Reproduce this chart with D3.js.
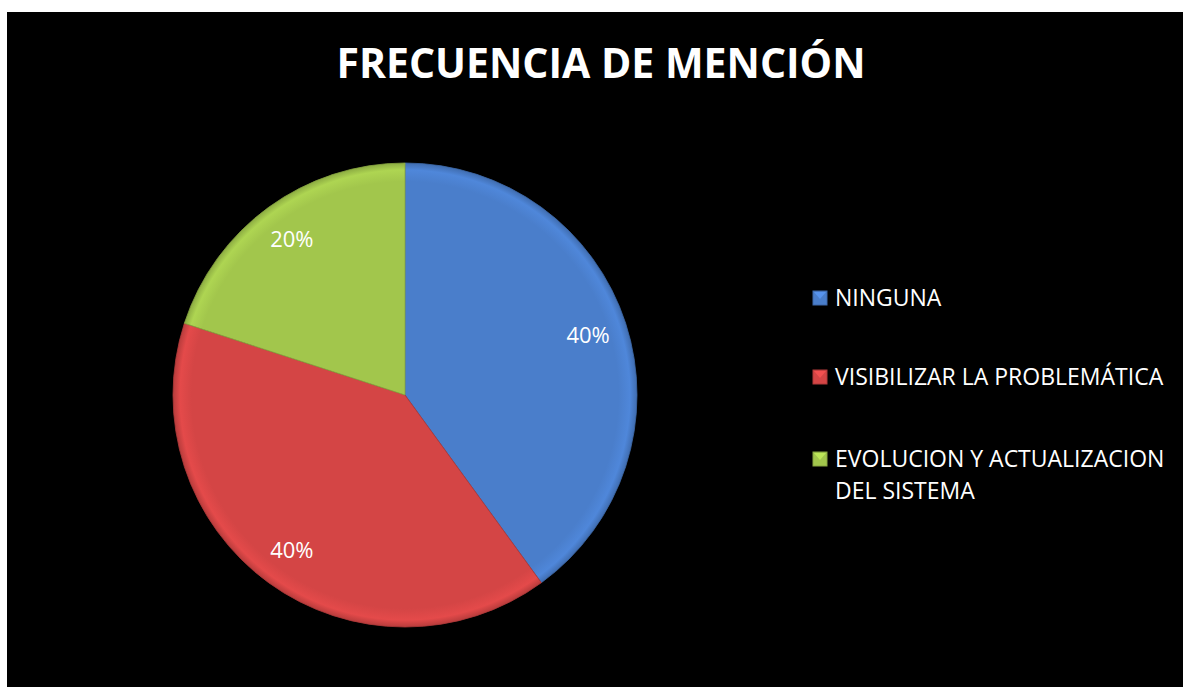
<!DOCTYPE html>
<html>
<head>
<meta charset="utf-8">
<script src="https://cdn.jsdelivr.net/npm/d3@7"></script>
<style>
  body { margin: 0; background: #ffffff; }
  svg { display: block; }
</style>
</head>
<body>
<div id="pie-chart"></div>
<script>
// chart data
var categories = ["NINGUNA", "VISIBILIZAR LA PROBLEMÁTICA", "EVOLUCION Y ACTUALIZACION DEL SISTEMA"];
var values = [40, 40, 20];
var labels = ["40%", "40%", "20%"];
var legendLines = [["NINGUNA"], ["VISIBILIZAR LA PROBLEMÁTICA"], ["EVOLUCION Y ACTUALIZACION", "DEL SISTEMA"]];
var colors = ["#4a7ecb", "#d44545", "#a2c64c"];
var chartTitle = "FRECUENCIA DE MENCIÓN";

var width = 1183, height = 687;
var cx = 405, cy = 395, radius = 232;

var svg = d3.select("#pie-chart")
    .append("svg")
    .attr("width", width)
    .attr("height", height);

// black chart area
svg.append("rect")
    .attr("x", 7).attr("y", 12)
    .attr("width", width - 7).attr("height", height - 12)
    .attr("fill", "#000000");

var defs = svg.append("defs");

// soft bevel look for each slice colour (coords local to the pie group)
colors.forEach(function (c, i) {
    var gr = defs.append("radialGradient")
        .attr("id", "grad" + i)
        .attr("gradientUnits", "userSpaceOnUse")
        .attr("cx", 0).attr("cy", 0).attr("r", radius);
    gr.append("stop").attr("offset", "0%").attr("stop-color", c);
    gr.append("stop").attr("offset", "92%").attr("stop-color", c);
    gr.append("stop").attr("offset", "97%").attr("stop-color", d3.color(c).brighter(0.2));
    gr.append("stop").attr("offset", "100%").attr("stop-color", d3.color(c).darker(0.4));
});

var pie = d3.pie().sort(null).value(function (d) { return d; });
var arc = d3.arc().innerRadius(0).outerRadius(radius);
var labelArc = d3.arc().innerRadius(radius * 0.83).outerRadius(radius * 0.83);

var g = svg.append("g").attr("transform", "translate(" + cx + "," + cy + ")");

var arcs = g.selectAll(".arc")
    .data(pie(values))
    .enter()
    .append("g")
    .attr("class", "arc");

// Draw each slice
arcs.append("path")
    .attr("d", arc)
    .attr("fill", function (d, i) { return "url(#grad" + i + ")"; })
    .attr("stroke", function (d, i) { return d3.color(colors[i]).darker(0.5); })
    .attr("stroke-width", 0.8);

// percentage labels
arcs.append("text")
    .attr("transform", function (d) { return "translate(" + labelArc.centroid(d) + ")"; })
    .attr("text-anchor", "middle")
    .attr("dy", "0.35em")
    .attr("fill", "#ffffff")
    .style("font-family", "'Open Sans', sans-serif")
    .style("font-size", "22px")
    .text(function (d, i) { return labels[i]; });

// title
svg.append("text")
    .attr("x", 601)
    .attr("y", 78)
    .attr("text-anchor", "middle")
    .attr("fill", "#ffffff")
    .style("font-family", "'Open Sans', sans-serif")
    .style("font-weight", "bold")
    .style("font-size", "41px")
    .text(chartTitle);

// legend
var legendY = [298, 377, 459];
var legend = svg.selectAll(".legend-item")
    .data(categories)
    .enter()
    .append("g")
    .attr("class", "legend-item")
    .attr("transform", function (d, i) { return "translate(813," + legendY[i] + ")"; });

legend.append("rect")
    .attr("x", 0).attr("y", -7)
    .attr("width", 14).attr("height", 14)
    .attr("fill", function (d, i) { return colors[i]; })
    .attr("stroke", function (d, i) { return d3.color(colors[i]).darker(0.5); })
    .attr("stroke-width", 1);

legend.append("path")
    .attr("d", "M1,-6 L13,-6 L7,1 Z")
    .attr("fill", function (d, i) { return d3.color(colors[i]).brighter(0.6); })
    .attr("opacity", 0.7);

legend.append("text")
    .attr("fill", "#ffffff")
    .style("font-family", "'Open Sans', sans-serif")
    .style("font-size", "23px")
    .selectAll("tspan")
    .data(function (d, i) { return legendLines[i]; })
    .enter()
    .append("tspan")
    .attr("x", 22)
    .attr("y", function (d, j) { return j * 32; })
    .attr("dy", "0.36em")
    .text(function (d) { return d; });
</script>
</body>
</html>
